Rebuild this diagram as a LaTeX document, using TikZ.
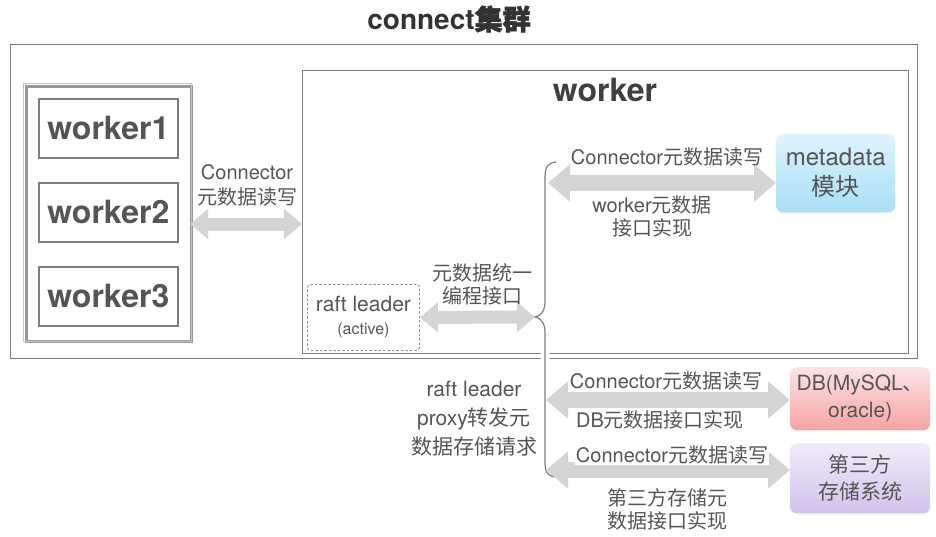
\documentclass[tikz,border=0pt]{standalone}
\usepackage{fontspec}
\setmainfont{TeX Gyre Heros}
\newfontfamily\cjk{Noto Sans CJK SC}
\newfontfamily\cjkbold{Noto Sans CJK SC}[FakeBold=2]
\newcommand{\zh}[1]{{\cjk #1}}
\newcommand{\zhb}[1]{{\cjkbold #1}}
\usetikzlibrary{arrows.meta, positioning, shadows}
\definecolor{txtgray}{RGB}{85,85,85}
\definecolor{boxgray}{RGB}{125,125,125}
\definecolor{arrgray}{RGB}{212,212,212}
\definecolor{metatop}{RGB}{222,244,252}
\definecolor{metabot}{RGB}{168,222,246}
\definecolor{dbtop}{RGB}{252,228,228}
\definecolor{dbbot}{RGB}{245,163,163}
\definecolor{sttop}{RGB}{241,236,250}
\definecolor{stbot}{RGB}{210,194,236}

\begin{document}
\begin{tikzpicture}[x=1pt,y=1pt,yscale=-1,
  frame/.style={draw=boxgray, line width=1.3pt, inner sep=0pt, anchor=north west},
  wbox/.style={frame, line width=1.6pt, minimum width=139pt, minimum height=59pt, font=\fontsize{32}{36}\selectfont\bfseries, text=txtgray},
  fat/.style={draw=arrgray, line width=16pt, {Triangle[length=22pt,width=36pt]}-{Triangle[length=22pt,width=36pt]}},
  fatsm/.style={draw=arrgray, line width=13pt, {Triangle[length=18pt,width=29pt]}-{Triangle[length=18pt,width=29pt]}},
  lbl/.style={font=\fontsize{20}{23}\selectfont, text=txtgray, align=center, inner sep=1pt},
  store/.style={anchor=north west, rounded corners=7pt, align=center, inner sep=0pt, font=\fontsize{21}{27}\selectfont, text=txtgray, drop shadow={opacity=0.12, shadow xshift=0pt, shadow yshift=-1.5pt}}]
\useasboundingbox (0,0) rectangle (936,536);

% title
\node (title) at (449,19) {\fontsize{28}{32}\selectfont\bfseries\color{black!80}connect\zhb{集群}};

%Shape: Rectangle (cluster)
\node (cluster) [frame, minimum width=907pt, minimum height=314pt] at (10,44) {};
%Shape: Rectangle (left worker group)
\node (grp) [frame, draw=boxgray!80, line width=2.6pt, minimum width=165pt, minimum height=255pt] at (25,85) {};
\draw [boxgray!45, line width=0.8pt] (23.5,83.5) rectangle (191.5,341.5);
\node (w1) [wbox] at (38,98) {worker1};
\node (w2) [wbox] at (38,182) {worker2};
\node (w3) [wbox] at (38,266) {worker3};

%Shape: Rectangle (worker)
\node (wk) [frame, minimum width=606pt, minimum height=283pt] at (302,70) {};
\node (wktitle) at (605,90) {\fontsize{32}{36}\selectfont\bfseries\color{black!75}worker};

% raft leader
\node (raft) [frame, draw=boxgray!90, line width=0.9pt, dash pattern={on 2.5pt off 2pt}, rounded corners=3pt, minimum width=112pt, minimum height=66pt, align=center, font=\fontsize{21}{25}\selectfont, text=txtgray] at (307,284) {raft leader\\[-2pt]{\fontsize{16}{18}\selectfont (active)}};

% storage boxes
\node (meta) [store, top color=metatop, bottom color=metabot, minimum width=119pt, minimum height=78pt, font=\fontsize{24}{30}\selectfont] at (776,134) {metadata\\\zh{模块}};
\node (db) [store, top color=dbtop, bottom color=dbbot, minimum width=140pt, minimum height=63pt] at (790,367) {DB(MySQL\zh{、}\\oracle)};
\node (st) [store, top color=sttop, bottom color=stbot, minimum width=140pt, minimum height=70pt] at (790,443) {\zh{第三方}\\\zh{存储系统}};

% brace
\coordinate (btop) at (556,162);
\coordinate (cusp) at (535,317);
\coordinate (bbot) at (556,477);
\draw [white, line width=9pt] (btop) .. controls (547,163) and (545,168) .. (545,178) -- (545,301) .. controls (545,311) and (541,316) .. (cusp) .. controls (541,318) and (545,323) .. (545,333) -- (545,462) .. controls (545,472) and (547,476) .. (bbot);
\draw [boxgray, line width=1.2pt] (btop) .. controls (547,163) and (545,168) .. (545,178) -- (545,301) .. controls (545,311) and (541,316) .. (cusp) .. controls (541,318) and (545,323) .. (545,333) -- (545,462) .. controls (545,472) and (547,476) .. (bbot);

% arrows
\coordinate (la) at (190,224);
\draw [fatsm] (la) -- (la -| wk.west);
\draw [fatsm] (raft.east) -- (cusp);
\coordinate (mt) at (548,183);
\draw [fat] (mt) -- (mt -| meta.west);
\coordinate (dm) at (546,400);
\draw [fat] (dm) -- (dm -| db.west);
\coordinate (sm) at (546,470);
\draw [fat] (sm) -- (sm -| st.west);

% Text Node
\node (lblL) [lbl, font=\fontsize{20}{25}\selectfont] at (247,185) {Connector\\\zh{元数据读写}};
\node (lblU) [lbl] at (482,284) {\zh{元数据统一}\\\zh{编程接口}};
\node (lblMT) [lbl] at (667,157) {Connector\zh{元数据读写}};
\node (lblMB) [lbl] at (652,216) {worker\zh{元数据}\\\zh{接口实现}};
\node (lblDT) [lbl, fill=white] at (666,381) {Connector\zh{元数据读写}};
\node (lblDB) [lbl] at (660,420) {DB\zh{元数据接口实现}};
\node (lblST) [lbl, fill=white] at (672,455) {Connector\zh{元数据读写}};
\node (lblSB) [lbl] at (667,509) {\zh{第三方存储元}\\\zh{数据接口实现}};
\node (lblP) [lbl, font=\fontsize{21}{29}\selectfont] at (474,419) {raft leader\\proxy\zh{转发元}\\\zh{数据存储请求}};

\end{tikzpicture}
\end{document}
